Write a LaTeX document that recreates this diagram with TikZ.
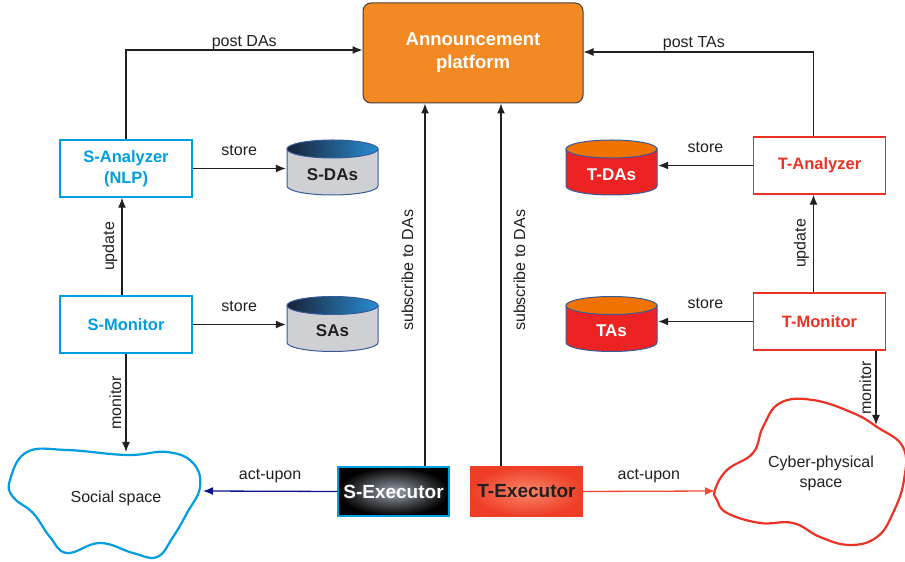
\documentclass[tikz,border=0pt]{standalone}
\usepackage{fontspec}
\setmainfont{Liberation Sans}
\usetikzlibrary{arrows.meta,shapes}

\definecolor{sblue}{RGB}{0,158,224}
\definecolor{tred}{RGB}{236,50,36}
\definecolor{plt}{RGB}{242,137,34}
\definecolor{pltline}{RGB}{70,60,55}
\definecolor{lnk}{RGB}{35,31,32}
\definecolor{actblue}{RGB}{10,20,145}
\definecolor{actred}{RGB}{240,75,50}
\definecolor{dbline}{RGB}{55,90,155}
\definecolor{dbgray}{RGB}{206,208,212}
\definecolor{dbdark}{RGB}{25,35,55}
\definecolor{dbblue}{RGB}{40,140,210}
\definecolor{dbred}{RGB}{237,35,35}
\definecolor{dborange}{RGB}{240,115,0}
\definecolor{sexin}{RGB}{150,160,170}
\definecolor{texin}{RGB}{250,135,105}
\definecolor{texout}{RGB}{238,62,40}

\tikzset{dbase/.style n args={3}{minimum width=93, minimum height=57,
    text height=26pt, text depth=0pt, font=\fontsize{17}{20}\selectfont\bfseries,
    path picture={
      \filldraw[fill=#3, draw=dbline, line width=1pt]
        ([shift={(1,-10)}]path picture bounding box.north west)
        -- ([shift={(1,10)}]path picture bounding box.south west)
        arc[start angle=180, end angle=360, x radius=45.5, y radius=9]
        -- ([shift={(-1,-10)}]path picture bounding box.north east) -- cycle;
      \shade[left color=#1, right color=#2, draw=dbline, line width=1pt]
        ([yshift=-10]path picture bounding box.north) ellipse[x radius=45.5, y radius=9];
    }}}

\begin{document}
\begin{tikzpicture}[x=1pt,y=1pt]
    \tikzstyle{link} = [-{Latex[length=10pt,width=8pt]}, line width=1.3pt, draw=lnk]
    \tikzstyle{lbl} = [font=\fontsize{16}{18}\selectfont, text=lnk, inner sep=2pt]
    \tikzstyle{hlbl} = [lbl, anchor=base]
    \tikzstyle{sbox} = [draw=sblue, line width=1.5pt, fill=white, text=sblue, align=center,
        font=\fontsize{16.5}{21}\selectfont\bfseries, minimum width=132, minimum height=57]
    \tikzstyle{tbox} = [sbox, draw=tred, text=tred]
    \tikzstyle{exec} = [minimum width=111, minimum height=49, line width=1.5pt,
        font=\fontsize{19}{22}\selectfont\bfseries]

    \useasboundingbox (0,0) rectangle (905,562);

    % platform
    \node[draw=pltline, line width=1pt, fill=plt, rounded corners=8pt, minimum width=220,
        minimum height=100, text=white, align=center,
        font=\fontsize{18.5}{23}\selectfont\bfseries] (plat) at (473,509) {Announcement\\platform};

    % social side
    \node[sbox] (sana) at (126,393.5) {S-Analyzer\\(NLP)};
    \node[sbox] (smon) at (126,237.5) {S-Monitor};
    \node[dbase={dbdark}{dbblue}{dbgray}, text=lnk] (sdas) at (332.5,394.5) {S-DAs};
    \node[dbase={dbdark}{dbblue}{dbgray}, text=lnk] (sas) at (332.5,238) {SAs};

    % technical side
    \node[tbox] (tana) at (819.5,396.5) {T-Analyzer};
    \node[tbox] (tmon) at (819.5,240.5) {T-Monitor};
    \node[dbase={dborange}{dborange}{dbred}, text=white] (tdas) at (611.5,394.5) {T-DAs};
    \node[dbase={dborange}{dborange}{dbred}, text=white] (tas) at (611.5,238) {TAs};

    % executors
    \node[exec, draw=sblue, inner color=sexin, outer color=black, text=white] (sexe) at (393.5,70.5) {S-Executor};
    \node[exec, draw=texout, inner color=texin, outer color=texout, text=lnk] (texe) at (526.5,70.5) {T-Executor};

    % spaces
    \draw[sblue, line width=2.2pt] plot[smooth cycle, tension=0.7] coordinates {
        (10,82) (27,110) (67,112) (127,107) (167,110) (193,99) (200,75) (187,49)
        (173,25) (157,5) (133,9) (100,19) (67,9) (50,25) (33,49) (13,65)};
    \node[lbl] (social) at (116,64) {Social space};
    \draw[tred, line width=2.2pt] plot[smooth cycle, tension=0.7] coordinates {
        (715,72) (727,92) (753,109) (763,135) (780,159) (813,162) (853,149) (877,135)
        (903,115) (904,82) (893,49) (877,25) (850,17) (820,25) (793,39) (760,39)
        (727,49) (717,62)};
    \node[lbl, align=center, font=\fontsize{16}{20}\selectfont] (cyber) at (821,89) {Cyber-physical\\space};
    \coordinate (sspTop) at (126,110);
    \coordinate (sspRight) at (203,71);
    \coordinate (cpsTop) at (876,137);
    \coordinate (cpsLeft) at (715,71);

    % connectors
    \draw[link] (sana.north) |- ([yshift=3]plat.west) node[hlbl, pos=0.75, yshift=3] {post DAs};
    \draw[link] ([xshift=-6]tana.north) |- ([yshift=1]plat.east) node[hlbl, pos=0.76, yshift=4] {post TAs};

    \draw[link] (sana.east) -- (sana.east -| sdas.west) node[hlbl, midway, yshift=13] {store};
    \draw[link] (smon.east) -- (smon.east -| sas.west) node[hlbl, midway, yshift=13] {store};
    \draw[link] (tana.west) -- (tana.west -| tdas.east) node[hlbl, midway, yshift=13] {store};
    \draw[link] (tmon.west) -- (tmon.west -| tas.east) node[hlbl, midway, yshift=13] {store};

    \draw[link] ([xshift=-4]smon.north) -- ([xshift=-4]sana.south) node[lbl, midway, rotate=90, above=2pt] {update};
    \draw[link] ([xshift=-6]tmon.north) -- ([xshift=-6]tana.south) node[lbl, midway, rotate=90, above=2pt] {update};

    \draw[link] (smon.south) -- (sspTop) node[lbl, midway, rotate=90, above=2pt] {monitor};
    \draw[link] ([xshift=56.5]tmon.south) -- (cpsTop) node[lbl, midway, rotate=90, above=2pt] {monitor};

    \draw[link] ([xshift=31.5]sexe.north) -- ([xshift=31.5]sexe.north |- plat.south)
        node[lbl, pos=0.54, rotate=90, above=9pt] {subscribe to DAs};
    \draw[link] ([xshift=-25.5]texe.north) -- ([xshift=-25.5]texe.north |- plat.south)
        node[lbl, pos=0.54, rotate=90, below=10pt] {subscribe to DAs};

    \draw[link, draw=actblue] (sexe.west) -- (sspRight) node[hlbl, midway, yshift=12] {act-upon};
    \draw[link, draw=actred] (texe.east) -- (cpsLeft) node[hlbl, midway, yshift=12] {act-upon};
\end{tikzpicture}
\end{document}
